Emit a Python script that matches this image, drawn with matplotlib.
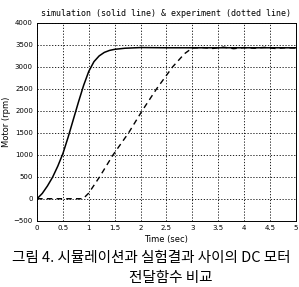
import matplotlib
matplotlib.use('Agg')
import matplotlib.pyplot as plt

# simulacao (linha cheia)
t_sim = [0, 0.1, 0.2, 0.3, 0.4, 0.5, 0.6, 0.7, 0.8, 0.9, 1.0, 1.1, 1.2, 1.3, 1.4, 1.5, 1.7, 2.0, 2.5, 3.0, 3.5, 4.0, 4.5, 5.0]
v_sim = [0, 120, 290, 490, 740, 1030, 1400, 1800, 2200, 2580, 2900, 3120, 3250, 3330, 3375, 3400, 3425, 3440, 3435, 3435, 3435, 3435, 3435, 3435]

# experimento (linha tracejada)
t_exp = [0, 0.89, 1.0, 1.21, 1.47, 1.77, 2.03, 2.31, 2.62, 2.85, 3.0, 3.2, 3.4, 3.6, 3.8, 4.0, 4.2, 4.4, 4.6, 4.8, 5.0]
v_exp = [0, 0, 130, 500, 1000, 1500, 2000, 2500, 3000, 3300, 3430, 3440, 3420, 3450, 3415, 3440, 3425, 3445, 3420, 3435, 3430]

xticks = [0, 0.5, 1, 1.5, 2, 2.5, 3, 3.5, 4, 4.5, 5]
xtick_labels = ['0', '0.5', '1', '1.5', '2', '2.5', '3', '3.5', '4', '4.5', '5']
yticks = [-500, 0, 500, 1000, 1500, 2000, 2500, 3000, 3500, 4000]

fig = plt.figure(figsize=(2.99, 2.87), dpi=100)
ax = fig.add_axes([0.124, 0.231, 0.865, 0.689])

ax.plot(t_sim, v_sim, color='black', linewidth=1.1, linestyle='-')
ax.plot(t_exp, v_exp, color='black', linewidth=1.0, linestyle=(0, (4, 3)))

ax.set_xlim(0, 5)
ax.set_ylim(-500, 4000)
ax.set_xticks(xticks)
ax.set_xticklabels(xtick_labels)
ax.set_yticks(yticks)
ax.tick_params(labelsize=5, length=0, pad=3)
ax.grid(True, color='black', linestyle=(0, (1.5, 2)), linewidth=0.6)
for s in ax.spines.values():
    s.set_linewidth(0.7)

ax.set_title('simulation (solid line) & experiment (dotted line)',
             fontsize=6, family='DejaVu Sans Mono', pad=5)
ax.set_ylabel('Motor (rpm)', fontsize=6, labelpad=2)
ax.set_xlabel('Time (sec)', fontsize=6, labelpad=3)

fig.text(0.505, 0.102, '그림 4. 시뮬레이션과 실험결과 사이의 DC 모터', ha='center', va='center',
         fontsize=10.5, family=['Noto Sans CJK KR', 'DejaVu Sans'])
fig.text(0.571, 0.031, '전달함수 비교', ha='center', va='center',
         fontsize=10.5, family=['Noto Sans CJK KR', 'DejaVu Sans'])

plt.savefig('out.png', dpi=100)
